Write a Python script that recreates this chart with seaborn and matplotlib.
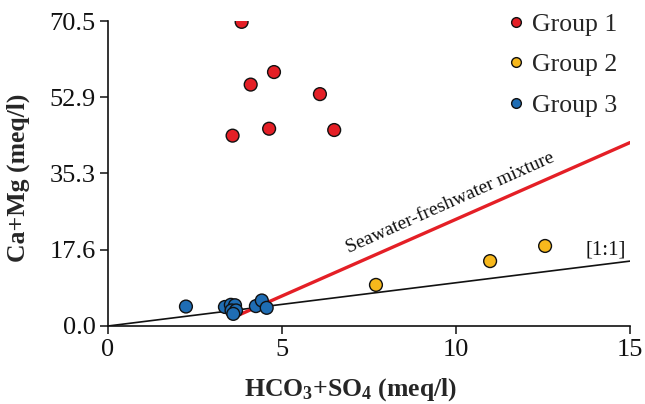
import matplotlib
matplotlib.use("Agg")
import matplotlib.pyplot as plt
from matplotlib.lines import Line2D
import seaborn as sns
import pandas as pd

# ---- data ----
g1_x = [3.84, 4.77, 4.10, 6.09, 3.58, 4.63, 6.50]
g1_y = [70.3, 58.7, 55.8, 53.6, 44.0, 45.6, 45.3]
g2_x = [7.70, 10.98, 12.56]
g2_y = [9.5, 15.0, 18.5]
g3_x = [2.24, 3.36, 3.53, 3.65, 3.55, 3.68, 3.60, 4.25, 4.42, 4.56]
g3_y = [4.5, 4.4, 4.9, 4.8, 3.6, 3.6, 2.8, 4.6, 5.9, 4.2]
groups = ["Group 1", "Group 2", "Group 3"]
colors = ["#e41f26", "#f7b81c", "#1f6db4"]

line11_x = [0, 15]
line11_y = [0, 15]
mix_x = [3.55, 15]
mix_y = [1.8, 42.4]

xticks = [0, 5, 10, 15]
yticks = [0.0, 17.6, 35.3, 52.9, 70.5]
ytick_labels = ["0.0", "17.6", "35.3", "52.9", "70.5"]

df = pd.DataFrame({
    "x": g1_x + g2_x + g3_x,
    "y": g1_y + g2_y + g3_y,
    "group": ["Group 1"] * len(g1_x) + ["Group 2"] * len(g2_x) + ["Group 3"] * len(g3_x),
})

sns.set_style("ticks")
plt.rcParams["font.family"] = ["Liberation Serif", "DejaVu Serif"]
plt.rcParams["mathtext.default"] = "regular"

fig = plt.figure(figsize=(6.45, 4.04), dpi=100)
ax = fig.add_axes([108 / 645, 78 / 404, 522 / 645, 305 / 404])

sns.lineplot(x=line11_x, y=line11_y, ax=ax, color="#111111", linewidth=1.2, zorder=2)
sns.lineplot(x=mix_x, y=mix_y, ax=ax, color="#e41f26", linewidth=2.4, zorder=3)
sns.scatterplot(data=df, x="x", y="y", hue="group", hue_order=groups,
                palette=colors, s=85, edgecolor="#111111", linewidth=1.0,
                ax=ax, zorder=4, legend=False)

ax.set_xlim(0, 15)
ax.set_ylim(0, 70.5)
ax.set_xticks(xticks)
ax.set_xticklabels([str(t) for t in xticks])
ax.set_yticks(yticks)
ax.set_yticklabels(ytick_labels)
ax.tick_params(direction="out", length=6, width=1.1, labelsize=19, colors="#111111", pad=3)
for s in ["top", "right"]:
    ax.spines[s].set_visible(False)
for s in ["left", "bottom"]:
    ax.spines[s].set_linewidth(1.2)
    ax.spines[s].set_color("#111111")

ax.set_xlabel("HCO$_3$+SO$_4$ (meq/l)", fontsize=18.5, fontweight="bold")
ax.set_ylabel("Ca+Mg (meq/l)", fontsize=18.5, fontweight="bold")
ax.xaxis.set_label_coords(0.464, -0.165)
ax.yaxis.set_label_coords(-0.150, 0.485)

ax.text(9.83, 28.4, "Seawater-freshwater mixture", fontsize=14, rotation=24,
        ha="center", va="center", rotation_mode="anchor", color="#111111")
ax.text(14.3, 17.6, "[1:1]", fontsize=15, ha="center", va="center", color="#111111")

handles = [Line2D([], [], marker="o", linestyle="none", markersize=7,
                  markerfacecolor=c, markeredgecolor="#111111", markeredgewidth=1.0)
           for c in colors]
ax.legend(handles, groups, loc="upper left", bbox_to_anchor=(490 / 645, 1.0),
          bbox_transform=fig.transFigure, frameon=False, fontsize=18.5,
          handletextpad=0.15, labelspacing=0.68, handlelength=1.0, borderpad=0.0)

fig.savefig("out.png", dpi=100)
